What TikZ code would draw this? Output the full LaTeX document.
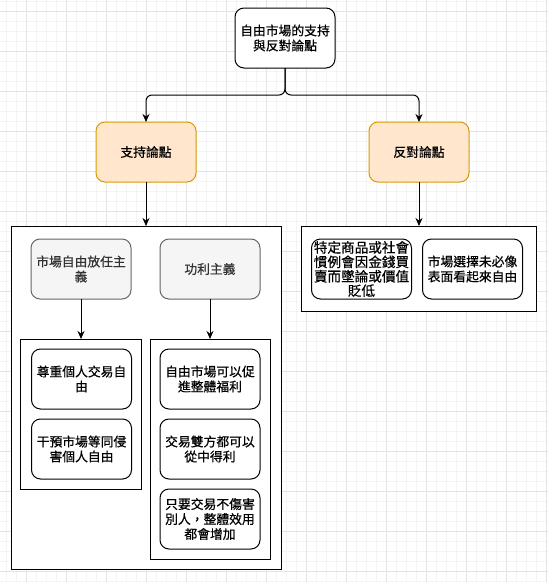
\documentclass[tikz,border=0pt]{standalone}
\usepackage{fontspec}
\setmainfont{Noto Sans CJK TC}[FakeBold=0.6]
\usepackage{tikz}
\usetikzlibrary{arrows.meta, positioning}

\definecolor{peachfill}{HTML}{FFE6CC}
\definecolor{peachline}{HTML}{D79B00}
\definecolor{greyfill}{HTML}{F5F5F5}
\definecolor{greyline}{HTML}{666666}
\definecolor{greytext}{HTML}{333333}
\definecolor{gridminor}{HTML}{F4F4F4}
\definecolor{gridmajor}{HTML}{E4E4E4}

\tikzset{
    card/.style={draw, fill=white, rectangle, rounded corners=9pt, align=center,
        minimum width=100pt, minimum height=60pt, inner sep=0pt, outer sep=0pt,
        line width=1pt, font=\fontsize{12.8}{15}\selectfont},
    sidecard/.style={card, fill=peachfill, draw=peachline},
    schoolcard/.style={card, fill=greyfill, draw=greyline, text=greytext},
    frame/.style={draw, fill=white, rectangle, inner sep=0pt, outer sep=0pt, line width=1pt},
    arr/.style={-{Stealth[length=8pt, width=7pt]}, line width=1pt}
}

\begin{document}
\begin{tikzpicture}[x=1pt, y=-1pt]
        \useasboundingbox (0,0) rectangle (548,582);
        % background grid
        \foreach \gx in {6.5,16.5,...,546.5} \draw[gridminor, line width=1pt] (\gx,0) -- (\gx,582);
        \foreach \gy in {1.5,11.5,...,581.5} \draw[gridminor, line width=1pt] (0,\gy) -- (548,\gy);
        \foreach \gx in {26.5,66.5,...,546.5} \draw[gridmajor, line width=1pt] (\gx,0) -- (\gx,582);
        \foreach \gy in {11.5,51.5,...,581.5} \draw[gridmajor, line width=1pt] (0,\gy) -- (548,\gy);

        % top and the two sides
        \node[card] (top) at (285,38) {自由市場的支持\\與反對論點};
        \node[sidecard, below left=54pt and 39pt of top] (pro) {支持論點};
        \node[sidecard, below right=54pt and 34pt of top] (con) {反對論點};

        % support side
        \node[frame, minimum width=270pt, minimum height=343pt, below=44pt of pro] (probox) {};
        \node[schoolcard, below right=13pt and 20pt of probox.north west] (laissez) {市場自由放任主\\義};
        \node[schoolcard, right=29pt of laissez] (util) {功利主義};
        \node[frame, minimum width=121pt, minimum height=150pt, below=40pt of laissez] (laissezbox) {};
        \node[card, below right=10pt and 11pt of laissezbox.north west] (respect) {尊重個人交易自\\由};
        \node[card, below=10pt of respect] (harm) {干預市場等同侵\\害個人自由};
        \node[frame, minimum width=120pt, minimum height=220pt, below=40pt of util] (utilbox) {};
        \node[card, below=10pt of utilbox.north] (welfare) {自由市場可以促\\進整體福利};
        \node[card, below=10pt of welfare] (gain) {交易雙方都可以\\從中得利};
        \node[card, below=10pt of gain] (total) {只要交易不傷害\\別人，整體效用\\都會增加};

        % opposing side
        \node[frame, minimum width=235pt, minimum height=85pt, below=44pt of con] (conbox) {};
        \node[card, font=\fontsize{13.6}{14.4}\selectfont, below right=13pt and 10pt of conbox.north west] (corrupt) {特定商品或社會\\慣例會因金錢買\\賣而墜論或價值\\貶低};
        \node[card, right=11pt of corrupt] (notfree) {市場選擇未必像\\表面看起來自由};

        \draw[arr, rounded corners=6pt] (top.south) -- ++(0,27) -| (pro.north);
        \draw[arr, rounded corners=6pt] (top.south) -- ++(0,27) -| (con.north);
        \draw[arr] (pro) -- (pro |- probox.north);
        \draw[arr] (con) -- (con |- conbox.north);
        \draw[arr] (laissez) -- (laissez |- laissezbox.north);
        \draw[arr] (util) -- (util |- utilbox.north);
    \end{tikzpicture}
\end{document}
